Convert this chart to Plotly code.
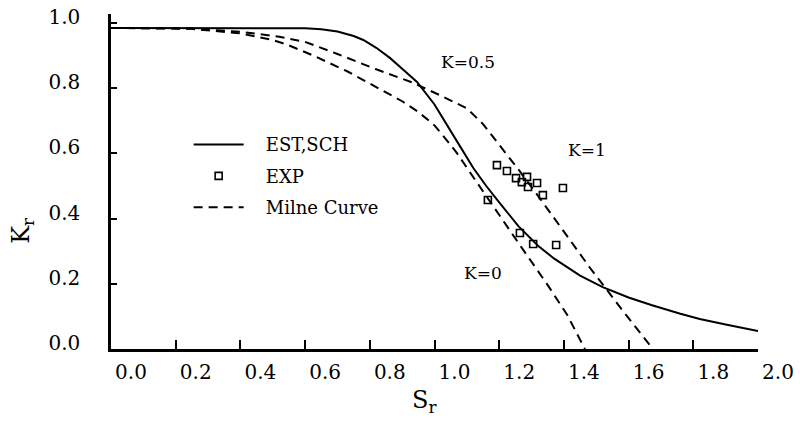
import plotly.graph_objects as go

# EST,SCH (solid)
est_x = [0, 0.2, 0.4, 0.6, 0.65, 0.7, 0.75, 0.78, 0.82, 0.862, 0.9, 0.946, 1.0, 1.04, 1.08, 1.12, 1.16, 1.2, 1.26, 1.32, 1.37, 1.45, 1.52, 1.6, 1.67, 1.76, 1.82, 1.9, 2.0]
est_y = [0.985, 0.985, 0.985, 0.984, 0.981, 0.974, 0.96, 0.948, 0.924, 0.893, 0.86, 0.819, 0.75, 0.687, 0.62, 0.555, 0.5, 0.45, 0.376, 0.317, 0.277, 0.225, 0.19, 0.158, 0.135, 0.108, 0.092, 0.075, 0.055]

# Milne curves (dashed)
milne_k1_x = [0, 0.25, 0.4, 0.52, 0.6, 0.7, 0.82, 0.93, 1.02, 1.1, 1.15, 1.2, 1.26, 1.32, 1.4, 1.48, 1.58, 1.675]
milne_k1_y = [0.985, 0.983, 0.973, 0.958, 0.942, 0.905, 0.858, 0.818, 0.777, 0.738, 0.69, 0.628, 0.55, 0.47, 0.36, 0.25, 0.12, 0.0]

milne_k0_x = [0, 0.25, 0.4, 0.5, 0.544, 0.63, 0.73, 0.83, 0.9, 0.95, 1.0, 1.04, 1.07, 1.12, 1.2, 1.27, 1.35, 1.41, 1.465]
milne_k0_y = [0.985, 0.982, 0.968, 0.948, 0.934, 0.898, 0.852, 0.797, 0.76, 0.727, 0.686, 0.638, 0.6, 0.527, 0.41, 0.31, 0.196, 0.105, 0.0]

# Experimental points
exp_x = [1.193, 1.224, 1.252, 1.27, 1.286, 1.289, 1.317, 1.335, 1.397, 1.165, 1.264, 1.305, 1.376]
exp_y = [0.564, 0.546, 0.524, 0.512, 0.528, 0.497, 0.509, 0.472, 0.494, 0.457, 0.356, 0.322, 0.319]

x_ticks = [0.0, 0.2, 0.4, 0.6, 0.8, 1.0, 1.2, 1.4, 1.6, 1.8, 2.0]
x_ticklabels = ["0.0", "0.2", "0.4", "0.6", "0.8", "1.0", "1.2", "1.4", "1.6", "1.8", "2.0"]
y_ticks = [0.0, 0.2, 0.4, 0.6, 0.8, 1.0]
y_ticklabels = ["0.0", "0.2", "0.4", "0.6", "0.8", "1.0"]

curve_labels = ["K=0.5", "K=1", "K=0"]
curve_label_x = [1.104, 1.47, 1.15]
curve_label_y = [0.88, 0.61, 0.233]

FONT = "DejaVu Serif"
NB = "\u00a0\u00a0\u00a0"

fig = go.Figure()
fig.add_trace(go.Scatter(x=est_x, y=est_y, mode="lines", name=NB + "EST,SCH",
                         line=dict(color="black", width=2),
                         legendgroup="a", cliponaxis=False))
fig.add_trace(go.Scatter(x=exp_x, y=exp_y, mode="markers", name=NB + "EXP",
                         marker=dict(symbol="square-open", size=7, color="black", line=dict(width=1.6)),
                         legendgroup="b"))
fig.add_trace(go.Scatter(x=milne_k1_x, y=milne_k1_y, mode="lines", name=NB + "Milne Curve",
                         line=dict(color="black", width=2, dash="9px,6px"),
                         legendgroup="c", cliponaxis=False))
fig.add_trace(go.Scatter(x=milne_k0_x, y=milne_k0_y, mode="lines", name="Milne Curve",
                         line=dict(color="black", width=2, dash="9px,6px"),
                         legendgroup="c", showlegend=False, cliponaxis=False))

for t, xx, yy in zip(curve_labels, curve_label_x, curve_label_y):
    fig.add_annotation(x=xx, y=yy, text=t, showarrow=False,
                       font=dict(family=FONT, size=17, color="black"))

fig.add_annotation(xref="paper", yref="paper", x=-0.165, y=0.355, text="K<sub>r</sub>",
                   textangle=-90, showarrow=False, font=dict(family=FONT, size=24, color="black"))
fig.add_annotation(xref="paper", yref="paper", x=0.485, y=-0.21, text="S<sub>r</sub>",
                   showarrow=False, font=dict(family=FONT, size=24, color="black"))

fig.update_xaxes(range=[0, 2.0], tickmode="array", tickvals=x_ticks, ticktext=x_ticklabels,
                 ticks="inside", ticklen=9, tickwidth=2, tickcolor="black", automargin=False,
                 showline=True, linecolor="black", linewidth=2.5, showgrid=False, zeroline=False,
                 tickfont=dict(family=FONT, size=20, color="black"),
                 ticklabelshift=20, ticklabelstandoff=3)
fig.update_yaxes(range=[0, 1.0276], tickmode="array", tickvals=y_ticks, ticktext=y_ticklabels,
                 ticks="inside", ticklen=6, tickwidth=2, tickcolor="black", automargin=False,
                 showline=True, linecolor="black", linewidth=2.5, showgrid=False, zeroline=False,
                 tickfont=dict(family=FONT, size=20, color="black"),
                 ticklabelshift=-6, ticklabelstandoff=24)

fig.update_layout(
    width=800, height=428,
    margin=dict(l=111, r=42, t=14, b=79),
    paper_bgcolor="white", plot_bgcolor="white",
    showlegend=True,
    legend=dict(x=0.12, y=0.665, xanchor="left", yanchor="top",
                bgcolor="rgba(0,0,0,0)", traceorder="grouped", tracegroupgap=5,
                itemwidth=50,
                font=dict(family=FONT, size=18, color="black")),
)

fig.write_html("out.html")
